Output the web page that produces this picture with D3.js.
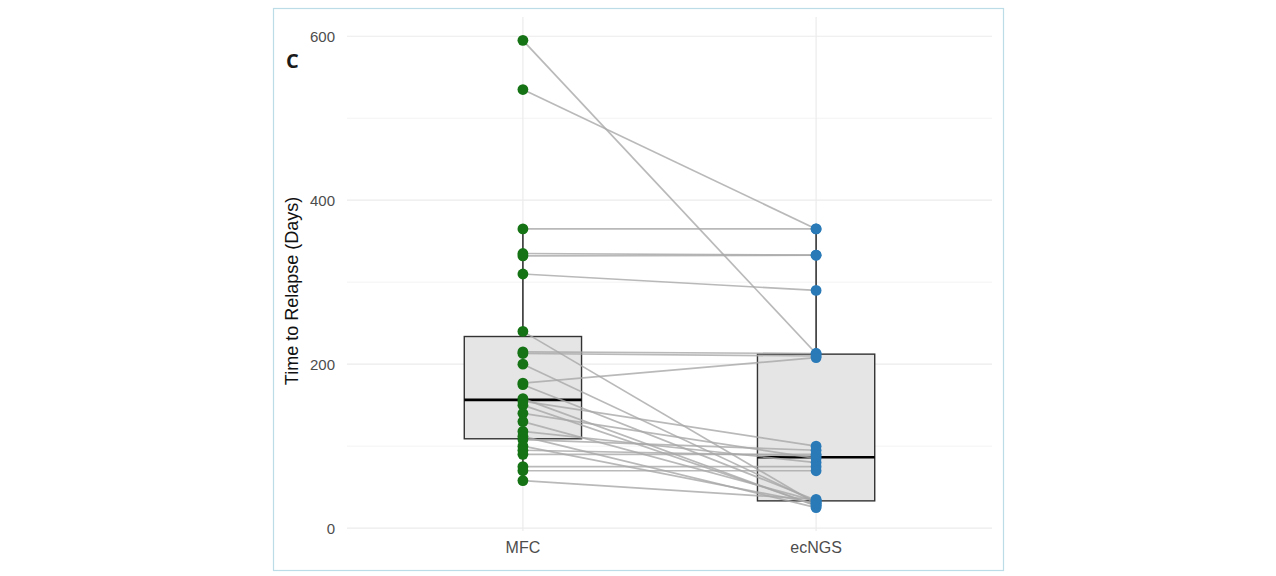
<!DOCTYPE html>
<html>
<head>
<meta charset="utf-8">
<script src="https://cdn.jsdelivr.net/npm/d3@7"></script>
<style>
  body { margin: 0; background: #fff; }
  svg { display: block; }
</style>
</head>
<body>
<div class="chart"></div>
<script>
// data: paired time to relapse per patient (days)
const groups = ["MFC", "ecNGS"];
const mfcDays = [595, 535, 365, 335, 332, 310, 240, 215, 213, 200, 177, 175, 158,
  155, 150, 140, 130, 118, 112, 108, 100, 95, 90, 75, 70, 58];
const ecngsDays = [213, 365, 365, 333, 333, 290, 30, 213, 210, 32, 208, 34, 27,
  100, 28, 85, 33, 80, 25, 95, 30, 88, 90, 75, 70, 35];
const yTicks = [0, 200, 400, 600];
const groupColors = ["#157315", "#2a7ab8"];

const width = 1276;
const height = 576;
const panel = { left: 347, right: 992, top: 17, bottom: 531 };

const svg = d3.select(".chart").append("svg")
  .attr("width", width)
  .attr("height", height);

// outer frame
svg.append("rect")
  .attr("x", 273.5).attr("y", 8.5)
  .attr("width", 730).attr("height", 562)
  .attr("fill", "none")
  .attr("stroke", "#bcdce8")
  .attr("stroke-width", 1.2);

// scales (ggplot-like expansion)
const x = d3.scalePoint()
  .domain(groups)
  .range([panel.left, panel.right])
  .padding(0.6);
const bandUnit = x.step();

const allVals = mfcDays.concat(ecngsDays);
const yMin = d3.min(allVals), yMax = d3.max(allVals);
const pad = (yMax - yMin) * 0.05;
const y = d3.scaleLinear()
  .domain([yMin - pad, yMax + pad])
  .range([panel.bottom, panel.top]);

// gridlines
const minorTicks = d3.range(100, 700, 200);
svg.append("g").selectAll("line.minor")
  .data(minorTicks.filter(d => y(d) > panel.top))
  .join("line")
  .attr("x1", panel.left).attr("x2", panel.right)
  .attr("y1", d => y(d)).attr("y2", d => y(d))
  .attr("stroke", "#f3f3f3").attr("stroke-width", 1);

svg.append("g").selectAll("line.major")
  .data(yTicks)
  .join("line")
  .attr("x1", panel.left).attr("x2", panel.right)
  .attr("y1", d => y(d)).attr("y2", d => y(d))
  .attr("stroke", "#ebebeb").attr("stroke-width", 1.2);

svg.append("g").selectAll("line.vgrid")
  .data(groups)
  .join("line")
  .attr("x1", d => x(d)).attr("x2", d => x(d))
  .attr("y1", panel.top).attr("y2", panel.bottom)
  .attr("stroke", "#ebebeb").attr("stroke-width", 1.2);

// boxplot stats (Tukey, type 7 quantiles)
function boxStats(values) {
  const s = values.slice().sort(d3.ascending);
  const q1 = d3.quantileSorted(s, 0.25);
  const med = d3.quantileSorted(s, 0.5);
  const q3 = d3.quantileSorted(s, 0.75);
  const iqr = q3 - q1;
  const lo = d3.min(s.filter(v => v >= q1 - 1.5 * iqr));
  const hi = d3.max(s.filter(v => v <= q3 + 1.5 * iqr));
  return { q1, med, q3, lo, hi };
}

const series = [mfcDays, ecngsDays];
const stats = series.map(boxStats);
const boxW = bandUnit * 0.4;

const boxes = svg.append("g").selectAll("g")
  .data(groups)
  .join("g");

// whiskers
boxes.append("line")
  .attr("x1", d => x(d)).attr("x2", d => x(d))
  .attr("y1", (d, i) => y(stats[i].q3)).attr("y2", (d, i) => y(stats[i].hi))
  .attr("stroke", "#1a1a1a").attr("stroke-width", 1.4);
boxes.append("line")
  .attr("x1", d => x(d)).attr("x2", d => x(d))
  .attr("y1", (d, i) => y(stats[i].q1)).attr("y2", (d, i) => y(stats[i].lo))
  .attr("stroke", "#1a1a1a").attr("stroke-width", 1.4);

boxes.append("rect")
  .attr("x", d => x(d) - boxW / 2)
  .attr("width", boxW)
  .attr("y", (d, i) => y(stats[i].q3))
  .attr("height", (d, i) => y(stats[i].q1) - y(stats[i].q3))
  .attr("fill", "#e5e5e5")
  .attr("stroke", "#333")
  .attr("stroke-width", 1.4);

// paired lines
const pairs = mfcDays.map((v, i) => [v, ecngsDays[i]]);
svg.append("g").selectAll("line")
  .data(pairs)
  .join("line")
  .attr("x1", x(groups[0])).attr("x2", x(groups[1]))
  .attr("y1", d => y(d[0])).attr("y2", d => y(d[1]))
  .attr("stroke", "#a8a8a8")
  .attr("stroke-opacity", 0.8)
  .attr("stroke-width", 1.7);

// medians on top of lines
boxes.append("line")
  .attr("x1", d => x(d) - boxW / 2).attr("x2", d => x(d) + boxW / 2)
  .attr("y1", (d, i) => y(stats[i].med)).attr("y2", (d, i) => y(stats[i].med))
  .attr("stroke", "#000").attr("stroke-width", 2.6);

// points
series.forEach((vals, gi) => {
  svg.append("g").selectAll("circle")
    .data(vals)
    .join("circle")
    .attr("cx", x(groups[gi]))
    .attr("cy", d => y(d))
    .attr("r", 5.4)
    .attr("fill", groupColors[gi]);
});

// axes labels
svg.append("g").selectAll("text")
  .data(yTicks)
  .join("text")
  .attr("x", 335)
  .attr("y", d => y(d))
  .attr("dy", "0.36em")
  .attr("text-anchor", "end")
  .attr("font-family", "Liberation Sans, Arial, sans-serif")
  .attr("font-size", 15)
  .attr("fill", "#4d4d4d")
  .text(d => d);

svg.append("g").selectAll("text")
  .data(groups)
  .join("text")
  .attr("x", d => x(d))
  .attr("y", 553)
  .attr("text-anchor", "middle")
  .attr("font-family", "Liberation Sans, Arial, sans-serif")
  .attr("font-size", 16)
  .attr("fill", "#4d4d4d")
  .text(d => d);

svg.append("text")
  .attr("transform", "translate(298,291) rotate(-90)")
  .attr("text-anchor", "middle")
  .attr("font-family", "Liberation Sans, Arial, sans-serif")
  .attr("font-size", 18)
  .attr("fill", "#111")
  .text("Time to Relapse (Days)");

svg.append("text")
  .attr("x", 286)
  .attr("y", 68)
  .attr("font-family", "Open Sans, sans-serif")
  .attr("font-weight", "bold")
  .attr("font-size", 20)
  .attr("fill", "#1a1a1a")
  .text("C");
</script>
</body>
</html>
